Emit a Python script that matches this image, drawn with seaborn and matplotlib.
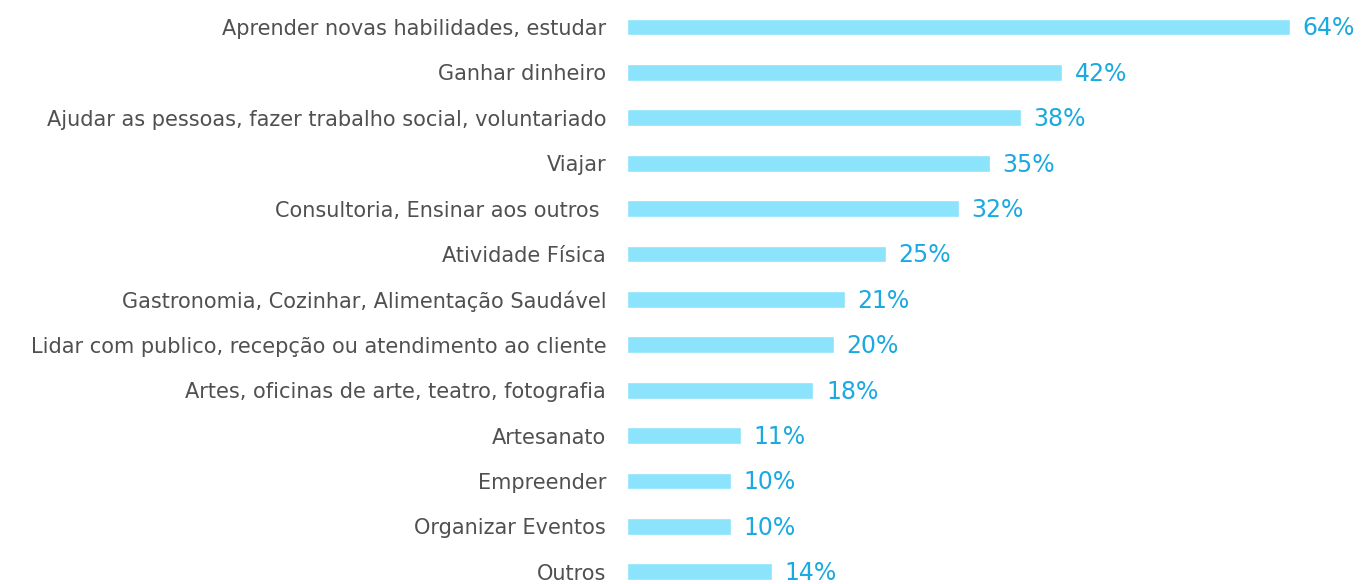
import matplotlib
matplotlib.use("Agg")
import matplotlib.pyplot as plt
import seaborn as sns
import pandas as pd

categories = [
    "Aprender novas habilidades, estudar",
    "Ganhar dinheiro",
    "Ajudar as pessoas, fazer trabalho social, voluntariado",
    "Viajar",
    "Consultoria, Ensinar aos outros ",
    "Atividade Física",
    "Gastronomia, Cozinhar, Alimentação Saudável",
    "Lidar com publico, recepção ou atendimento ao cliente",
    "Artes, oficinas de arte, teatro, fotografia",
    "Artesanato",
    "Empreender",
    "Organizar Eventos",
    "Outros",
]
values = [64, 42, 38, 35, 32, 25, 21, 20, 18, 11, 10, 10, 14]
labels = ["64%", "42%", "38%", "35%", "32%", "25%", "21%", "20%", "18%", "11%", "10%", "10%", "14%"]

df = pd.DataFrame({"cat": categories, "val": values})

sns.set_theme(style="white")
plt.rcParams['font.family'] = ['DejaVu Sans']

fig = plt.figure(figsize=(13.61, 5.84), dpi=100)
ax = fig.add_axes([627/1361, 0, (1361-627)/1361, 1])

sns.barplot(data=df, y="cat", x="val", orient="h", color="#8CE3FC",
            saturation=1, width=0.37, ax=ax)

ax.set_xlim(0, 734/10.36)
ax.set_ylim(12.27, -0.595)
ax.set_xlabel("")
ax.set_ylabel("")
ax.set_xticks([])
for s in ax.spines.values():
    s.set_visible(False)
ax.tick_params(axis="y", length=0, pad=15, labelsize=15, labelcolor="#505050")

for i, (v, lab) in enumerate(zip(values, labels)):
    ax.annotate(lab, (v, i), xytext=(9, -1), textcoords="offset points",
                va="center", ha="left", fontsize=17, color="#1BA9E1")

fig.savefig("out.png", dpi=100)
